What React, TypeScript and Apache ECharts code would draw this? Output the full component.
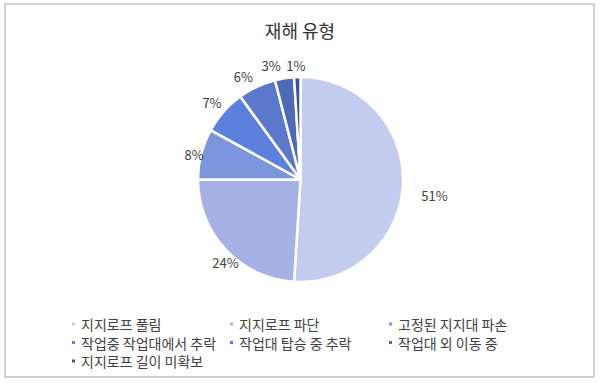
import React, { useEffect, useRef } from "react";
import * as echarts from "echarts";

const title = "재해 유형";
const categories = [
  "지지로프 풀림",
  "지지로프 파단",
  "고정된 지지대 파손",
  "작업중 작업대에서 추락",
  "작업대 탑승 중 추락",
  "작업대 외 이동 중",
  "지지로프 길이 미확보",
];
const values = [51, 24, 8, 7, 6, 3, 1];
const colors = ["#c3cbee", "#a6b1e6", "#7b96dc", "#5c80dc", "#5b78cc", "#4d69b8", "#3b4f94"];
const labelOffsets: number[][] = [[16, 12], [11, 2], [8, 4], [0, 1], [-7, 4], [-11, 3], [-1, 4]];
const legendColumns = [
  [0, 3, 6],
  [1, 4],
  [2, 5],
];
const legendLefts = [65, 223, 382];

const FONT = "'Noto Sans CJK KR', 'Noto Sans', sans-serif";

export default function App() {
  const ref = useRef<HTMLDivElement>(null);
  useEffect(() => {
    if (!ref.current) return;
    const chart = echarts.init(ref.current, null, { renderer: "svg" });
    const center = [300.5, 179.5];
    chart.setOption({
      animation: false,
      backgroundColor: "#ffffff",
      textStyle: { fontFamily: FONT },
      title: {
        text: title,
        left: "center",
        top: 16,
        textStyle: { fontSize: 18, fontWeight: "normal", color: "#333333", fontFamily: FONT },
      },
      graphic: [
        {
          type: "rect",
          shape: { x: 5, y: 4, width: 589, height: 373 },
          style: { fill: "none", stroke: "#c4c4c4", lineWidth: 1.5 },
          silent: true,
        },
      ],
      legend: legendColumns.map((col, i) => ({
        orient: "vertical",
        left: legendLefts[i],
        top: 311,
        icon: "rect",
        itemWidth: 5,
        itemHeight: 5,
        itemGap: 2.5,
        selectedMode: false,
        textStyle: { fontSize: 14, color: "#404040", lineHeight: 16, fontFamily: FONT },
        data: col.map((k) => categories[k]),
      })),
      series: [
        {
          type: "pie",
          center,
          radius: [0, 102.5],
          startAngle: 90,
          clockwise: true,
          label: { show: false },
          labelLine: { show: false },
          itemStyle: { borderColor: "#ffffff", borderWidth: 2.5 },
          emphasis: { disabled: true },
          data: categories.map((name, i) => ({
            name,
            value: values[i],
            itemStyle: { color: colors[i] },
          })),
        },
        {
          type: "pie",
          center,
          radius: [100, 130],
          startAngle: 90,
          clockwise: true,
          silent: true,
          emphasis: { disabled: true },
          labelLine: { show: false },
          itemStyle: { color: "rgba(0,0,0,0)" },
          data: categories.map((name, i) => ({
            name: "lbl" + i,
            value: values[i],
            label: {
              show: true,
              position: "inside",
              formatter: values[i] + "%",
              fontSize: 13,
              color: "#404040",
              fontFamily: FONT,
              offset: labelOffsets[i],
            },
          })),
        },
      ],
    });
    return () => chart.dispose();
  }, []);
  return (
    <div
      ref={ref}
      style={{ position: "fixed", left: 0, top: 0, width: 600, height: 383 }}
    />
  );
}
